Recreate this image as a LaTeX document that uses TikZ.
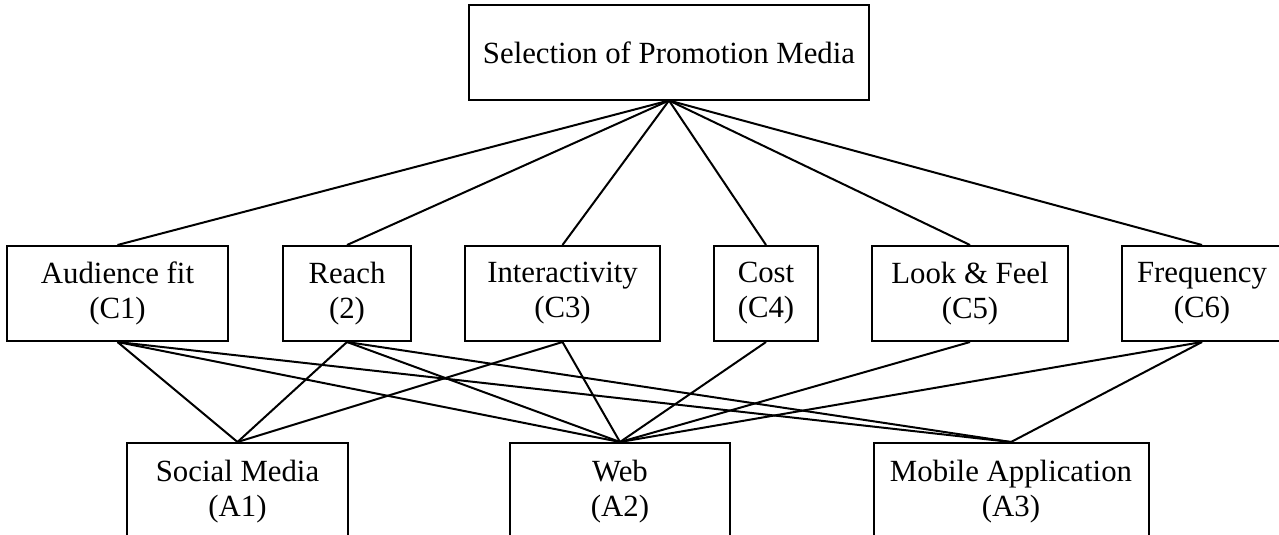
\documentclass[tikz,border=0pt]{standalone}
\usepackage{fontspec}
\setmainfont{Liberation Serif}
\begin{document}
\begin{tikzpicture}[x=1pt,y=-1pt,
  box/.style={draw,line width=2pt,rectangle,align=center,inner sep=0pt,font=\fontsize{30.8}{35}\selectfont},
  crit/.style={box,minimum height=95},
  alt/.style={box,minimum height=97},
  link/.style={line width=2pt}]
\useasboundingbox (0,0) rectangle (1279,535);
\clip (0,0) rectangle (1279,535);
\node[box,minimum width=400,minimum height=94] (top) at (669,52.5) {Selection of Promotion Media};
\node[crit,minimum width=221] (c1) at (117.5,293.5) {Audience fit\\(C1)};
\node[crit,minimum width=128] (c2) at (347,293.5) {Reach\\(2)};
\node[crit,minimum width=195] (c3) at (562.5,293.5) {Interactivity\\(C3)};
\node[crit,minimum width=104] (c4) at (766,293.5) {Cost\\(C4)};
\node[crit,minimum width=196] (c5) at (970,293.5) {Look \& Feel\\(C5)};
\node[crit,minimum width=160] (c6) at (1202,293.5) {Frequency\\(C6)};
\node[alt,minimum width=221] (a1) at (237.5,491.5) {Social Media\\(A1)};
\node[alt,minimum width=220] (a2) at (620,491.5) {Web\\(A2)};
\node[alt,minimum width=275] (a3) at (1011,491.5) {Mobile Application\\(A3)};
\foreach \c in {c1,c2,c3,c4,c5,c6} \draw[link] (top.south) -- (\c.north);
\foreach \c/\a in {c1/a1,c1/a2,c1/a3,c2/a1,c2/a2,c2/a3,c3/a1,c3/a2,c4/a2,c5/a2,c6/a2,c6/a3}
  \draw[link] (\c.south) -- (\a.north);
\end{tikzpicture}
\end{document}
